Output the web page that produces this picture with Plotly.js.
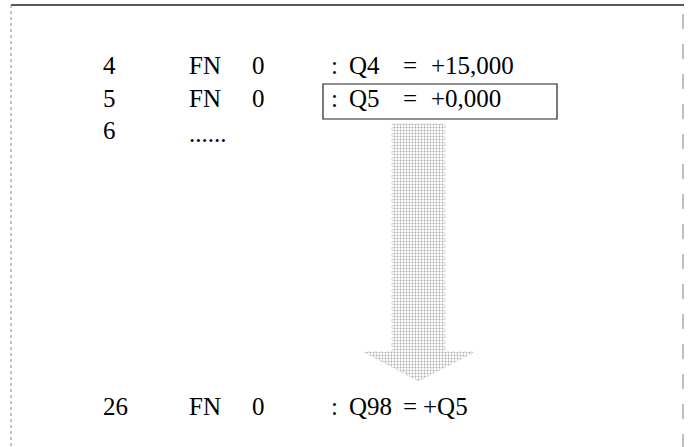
<!DOCTYPE html>
<html>
<head>
<meta charset="utf-8">
<script src="https://cdn.plot.ly/plotly-3.0.1.min.js"></script>
<style>html,body{margin:0;padding:0;background:#fff;}#chart{width:688px;height:447px;}</style>
</head>
<body>
<div id="chart"></div>
<script>
// ---- data ----
const lineNumbers = ['4', '5', '6', '26'];
const functions   = ['FN', 'FN', '......', 'FN'];
const funcArgs    = ['0', '0', '', '0'];
const colons      = [':', ':', '', ':'];
const params      = ['Q4', 'Q5', '', 'Q98'];
const equals      = ['=', '=', '', '='];
const values      = ['+15,000', '+0,000', '', '+Q5'];
const highlightedRow = 1;      // row index of the boxed assignment
const copyFrom = 1, copyTo = 3; // arrow: value of Q5 passes to Q98

// ---- layout helpers (positions in page pixels) ----
const rowY = [68, 101, 133, 409];
const col = {num: 103, fn: 189, arg: 252, colon: 331, param: 349, eq: 403};
const valX = [431, 431, 431, 423];
const font = {family: 'Liberation Serif, Times New Roman, serif', size: 25, color: '#000'};

const traces = [];
function textCol(texts, xs, dyFn) {
  traces.push({
    type: 'scatter', mode: 'text', hoverinfo: 'skip', showlegend: false,
    x: texts.map((t, i) => Array.isArray(xs) ? xs[i] : xs),
    y: texts.map((t, i) => rowY[i] + (dyFn ? dyFn(t) : 0)),
    text: texts, textposition: 'middle right', textfont: font
  });
}
textCol(lineNumbers, col.num);
textCol(functions, col.fn, t => t === '......' ? 3 : 0);
textCol(funcArgs, col.arg);
textCol(colons, col.colon);
textCol(params, col.param);
textCol(equals, col.eq);
textCol(values, valX);

// stippled arrow from boxed row down to the target row
const sx0 = 392, sx1 = 445, hx0 = 364, hx1 = 474;
const yTop = rowY[copyFrom] + 23, yHead = rowY[copyTo] - 57, yTip = rowY[copyTo] - 28;
const ax = (sx0 + sx1) / 2;
traces.push({
  type: 'scatter', mode: 'lines', hoverinfo: 'skip', showlegend: false,
  x: [sx0, sx1, sx1, hx1, ax, hx0, sx0, sx0],
  y: [yTop, yTop, yHead, yHead, yTip, yHead, yHead, yTop],
  fill: 'toself', fillcolor: 'rgba(0,0,0,0)',
  fillpattern: {shape: '.', fgcolor: '#a8a8a8', bgcolor: '#ffffff', size: 3, solidity: 0.3},
  line: {color: '#d4d4d4', width: 1, dash: 'dot'}
});

const shapes = [
  // frame
  {type: 'line', x0: 11, x1: 684, y0: 5, y1: 5, line: {color: '#222', width: 1.5}},
  {type: 'line', x0: 11, x1: 11, y0: 5, y1: 447, line: {color: '#888', width: 1, dash: 'dot'}},
  {type: 'line', x0: 683, x1: 683, y0: 14, y1: 447, line: {color: '#aaa', width: 1.5, dash: 'longdash'}},
  // highlight box around the row
  {type: 'rect', x0: 323, x1: 557, y0: rowY[highlightedRow] - 17, y1: rowY[highlightedRow] + 18,
   line: {color: '#222', width: 1.2}}
];

const layout = {
  width: 688, height: 447,
  margin: {l: 0, r: 0, t: 0, b: 0},
  paper_bgcolor: '#fff', plot_bgcolor: '#fff',
  xaxis: {range: [0, 688], visible: false, fixedrange: true},
  yaxis: {range: [447, 0], visible: false, fixedrange: true},
  shapes: shapes,
  showlegend: false
};
Plotly.newPlot('chart', traces, layout, {staticPlot: true, displayModeBar: false});
</script>
</body>
</html>
